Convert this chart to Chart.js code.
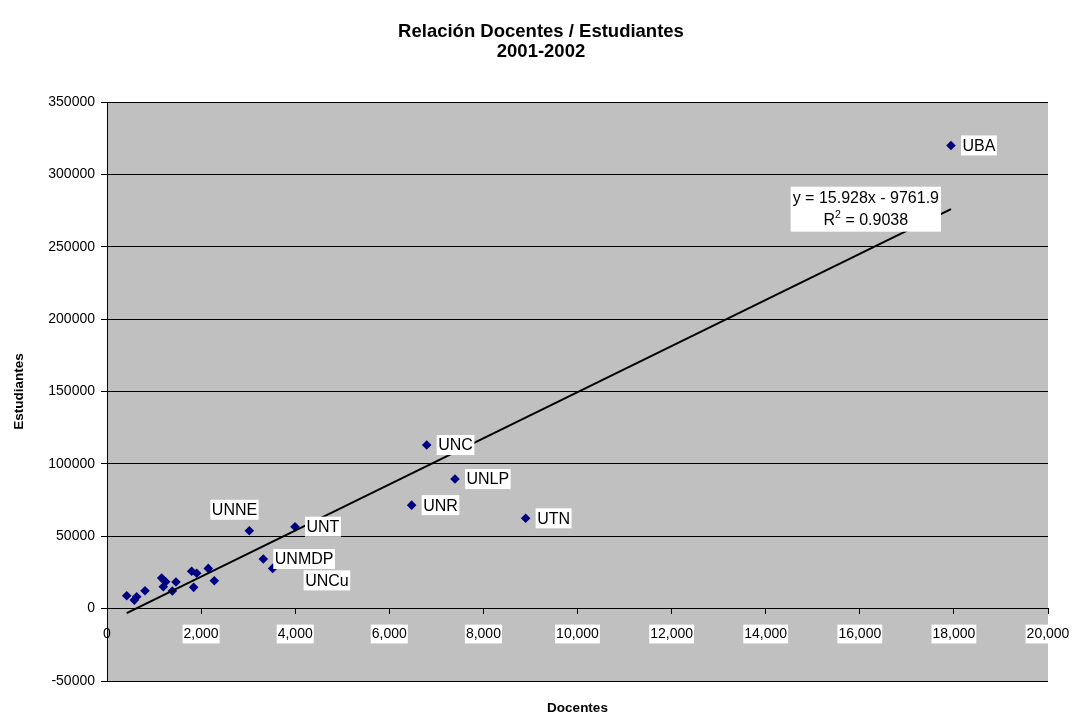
<!DOCTYPE html>
<html>
<head>
<meta charset="utf-8">
<script src="https://cdn.jsdelivr.net/npm/chart.js@4.4.1/dist/chart.umd.min.js"></script>
<style>
  html, body { margin: 0; padding: 0; background: #fff; }
  #wrap { width: 1075px; height: 716px; }
</style>
</head>
<body>
<div id="wrap"><canvas id="docentes-chart" width="1075" height="716"></canvas></div>
<script>

// data
const docentes    = [419, 581, 631, 808, 1162, 1197, 1247, 1389, 1466, 1800, 1842, 1906, 2153, 2281, 3025, 3322, 3521, 3996, 6475, 6795, 7396, 8898, 17938];
const estudiantes = [8900, 5900, 8200, 12400, 21100, 15100, 18600, 12200, 18400, 25800, 14700, 24400, 27800, 19300, 53800, 34300, 27800, 56600, 71500, 113000, 89500, 62400, 320000];
const universidades = ['', '', '', '', '', '', '', '', '', '', '', '', '', '', 'UNNE', 'UNMDP', 'UNCu', 'UNT', 'UNR', 'UNC', 'UNLP', 'UTN', 'UBA'];

const x_Ticks = { min: 0, max: 20000, step: 2000 };
const y_Ticks = { min: -50000, max: 350000, step: 50000 };

const chart_Title = ['Relación Docentes / Estudiantes', '2001-2002'];

// trendline as given in the chart
const trend_Slope = 15.928;
const trend_Intercept = -9761.9;
const trend_R2 = 0.9038;

const FONT = '"Liberation Sans", Arial, sans-serif';

// where some labels sit relative to their point (default: right of point)
const label_Offsets = { UNNE: [-39, -21], UNCu: [31, 12] };


const points = docentes.map((d, i) => ({ x: d, y: estudiantes[i] }));
const xLo = Math.min(...docentes), xHi = Math.max(...docentes);
const trendPoints = [xLo, xHi].map(v => ({ x: v, y: trend_Slope * v + trend_Intercept }));


const chartDecor = {
  id: 'chartDecor',
  beforeDraw(chart) {
    const a = chart.chartArea, ctx = chart.ctx;
    ctx.save();
    ctx.fillStyle = '#C0C0C0';
    ctx.fillRect(a.left, a.top, a.right - a.left, a.bottom - a.top);
    ctx.restore();
  },
  afterDatasetsDraw(chart) {
    const ctx = chart.ctx, a = chart.chartArea;
    ctx.save();

    // point labels
    ctx.font = '16px ' + FONT;
    ctx.textBaseline = 'middle';
    const meta = chart.getDatasetMeta(1);
    meta.data.forEach((pt, i) => {
      const name = universidades[i];
      if (!name) return;
      const off = label_Offsets[name] || [10, 0];
      const w = ctx.measureText(name).width + 3;
      const h = 20;
      const left = pt.x + off[0], cy = pt.y + off[1];
      ctx.fillStyle = '#fff';
      ctx.fillRect(left, cy - h / 2, w, h);
      ctx.fillStyle = '#000';
      ctx.fillText(name, left + 1.5, cy + 1);
    });

    // trendline equation box
    const end = chart.getDatasetMeta(0).data[1];
    const line1 = 'y = ' + trend_Slope + 'x - ' + Math.abs(trend_Intercept);
    const r2txt = ' = ' + trend_R2;
    const w1 = ctx.measureText(line1).width;
    const bw = w1 + 4, bh = 45;
    const bx = end.x - 10 - bw, by = end.y - bh / 2;
    ctx.fillStyle = '#fff';
    ctx.fillRect(bx, by, bw, bh);
    ctx.fillStyle = '#000';
    ctx.textAlign = 'center';
    ctx.fillText(line1, bx + bw / 2, by + 12);
    // R² line with superscript
    const wR = ctx.measureText('R').width;
    ctx.font = '10.5px ' + FONT;
    const wS = ctx.measureText('2').width;
    ctx.font = '16px ' + FONT;
    const wE = ctx.measureText(r2txt).width;
    const sx = bx + bw / 2 - (wR + wS + wE) / 2;
    const ly = by + 34;
    ctx.textAlign = 'left';
    ctx.fillText('R', sx, ly);
    ctx.font = '10.5px ' + FONT;
    ctx.fillText('2', sx + wR, ly - 6);
    ctx.font = '16px ' + FONT;
    ctx.fillText(r2txt, sx + wR + wS, ly);

    // titles
    ctx.textAlign = 'center';
    ctx.font = 'bold 18.5px ' + FONT;
    ctx.fillText(chart_Title[0], 541, 32);
    ctx.fillText(chart_Title[1], 541, 52);

    // x axis title at the bottom
    ctx.font = 'bold 13.5px ' + FONT;
    ctx.fillText('Docentes', (a.left + a.right) / 2, 708);
    ctx.restore();
  }
};


new Chart(document.getElementById('docentes-chart'), {
  data: {
    datasets: [
      {
        type: 'line',
        data: trendPoints,
        borderColor: '#000',
        borderWidth: 2,
        pointRadius: 0,
        fill: false
      },
      {
        type: 'scatter',
        data: points,
        pointStyle: 'rectRot',
        pointRadius: 4.8,
        backgroundColor: '#000080',
        borderColor: '#000080',
        borderWidth: 0
      }
    ]
  },
  options: {
    responsive: false,
    animation: false,
    locale: 'en-US',
    layout: { padding: { top: 102, right: 27, bottom: 35, left: 0 } },
    plugins: {
      legend: { display: false },
      tooltip: { enabled: false },
      title: { display: false }
    },
    scales: {
      x: {
        type: 'linear',
        position: { y: 0 },
        min: x_Ticks.min,
        max: x_Ticks.max,
        afterFit: s => { s.paddingLeft = 0; s.paddingRight = 0; },
        border: { color: '#000', width: 1 },
        grid: { drawOnChartArea: false, drawTicks: true, tickLength: 5, color: '#000' },
        ticks: {
          stepSize: x_Ticks.step,
          color: '#000',
          font: { family: FONT, size: 14 },
          padding: 12,
          maxRotation: 0,
          showLabelBackdrop: true,
          backdropColor: c => (c.tick && c.tick.value === 0) ? 'rgba(0,0,0,0)' : '#fff',
          backdropPadding: 1
        }
      },
      y: {
        type: 'linear',
        min: y_Ticks.min,
        max: y_Ticks.max,
        afterFit: s => { s.width = 107; },
        border: { color: '#000', width: 1 },
        grid: { color: '#000', tickLength: 6 },
        title: {
          display: true,
          text: 'Estudiantes',
          color: '#000',
          font: { family: FONT, size: 13.5, weight: 'bold' },
          padding: { top: 11, bottom: 0 }
        },
        ticks: {
          stepSize: y_Ticks.step,
          color: '#000',
          font: { family: FONT, size: 14 },
          padding: 6,
          callback: v => String(v)
        }
      }
    }
  },
  plugins: [chartDecor]
});
</script>
</body>
</html>
